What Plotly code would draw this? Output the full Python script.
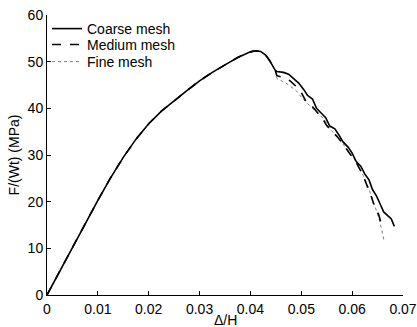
import plotly.graph_objects as go

# shared pre-peak branch (all meshes coincide)
x_shared = [0.0, 0.0025, 0.005, 0.0075, 0.01, 0.0125, 0.015, 0.0175, 0.02, 0.0225, 0.025,
            0.0275, 0.03, 0.0325, 0.035, 0.0375, 0.04, 0.041, 0.042, 0.043, 0.0438, 0.0445, 0.0449]
y_shared = [0.0, 5.1, 10.2, 15.3, 20.3, 25.1, 29.5, 33.4, 36.7, 39.4, 41.7,
            43.8, 45.9, 47.7, 49.3, 50.9, 52.1, 52.35, 52.2, 51.4, 50.2, 48.8, 48.1]

x_coarse = [0.0452, 0.0465, 0.0475, 0.0485, 0.0495, 0.0505, 0.0512, 0.0522, 0.0530, 0.0540,
            0.0548, 0.0556, 0.0566, 0.0574, 0.0582, 0.0592, 0.0600, 0.0608, 0.0617, 0.0625,
            0.0633, 0.0640, 0.0648, 0.0655, 0.0662, 0.0670, 0.0677, 0.0683]
y_coarse = [47.9, 47.7, 47.3, 46.3, 45.4, 44.0, 42.8, 42.0, 40.0, 38.9,
            38.0, 36.2, 35.6, 34.3, 32.8, 31.7, 30.4, 28.6, 27.6, 25.9,
            24.7, 22.6, 21.2, 19.5, 17.8, 17.0, 16.3, 14.7]

x_medium = [0.0452, 0.0465, 0.0478, 0.0490, 0.0500, 0.0510, 0.0520, 0.0530, 0.0542, 0.0550,
            0.0560, 0.0570, 0.0580, 0.0590, 0.0600, 0.0610, 0.0620, 0.0630, 0.0638, 0.0645,
            0.0652, 0.0658, 0.0662]
y_medium = [47.0, 46.6, 45.9, 44.7, 43.4, 41.3, 40.6, 39.4, 37.8, 36.3,
            35.2, 34.0, 32.7, 31.2, 29.6, 28.0, 26.0, 23.4, 21.0, 18.6,
            17.3, 15.0, 14.2]

x_fine = [0.0452, 0.0470, 0.0490, 0.0500, 0.0520, 0.0535, 0.0548, 0.0555, 0.0570, 0.0585,
          0.0600, 0.0612, 0.0622, 0.0632, 0.0640, 0.0648, 0.0655, 0.0660, 0.0663]
y_fine = [46.4, 45.4, 43.8, 42.4, 40.2, 38.8, 37.2, 35.7, 34.0, 32.0,
          29.8, 27.8, 25.6, 23.0, 20.6, 18.0, 15.5, 13.2, 11.5]

names = ["Coarse mesh", "Medium mesh", "Fine mesh"]
x_ticks = [0, 0.01, 0.02, 0.03, 0.04, 0.05, 0.06, 0.07]
x_ticklabels = ["0", "0.01", "0.02", "0.03", "0.04", "0.05", "0.06", "0.07"]
y_ticks = [0, 10, 20, 30, 40, 50, 60]
x_title = "Δ/H"
y_title = "F/(Wt) (MPa)"

coarse_line = dict(color="black", width=1.6)
medium_line = dict(color="black", width=1.6, dash="dash")
fine_line = dict(color="#808080", width=1, dash="dot")

fig = go.Figure()
fig.add_trace(go.Scatter(x=x_shared + x_fine, y=y_shared + y_fine, mode="lines", name=names[2],
                         line=fine_line, legend="legend3", showlegend=True))
fig.add_trace(go.Scatter(x=x_shared + x_medium, y=y_shared + y_medium, mode="lines", name=names[1],
                         line=medium_line, legend="legend2", showlegend=True))
fig.add_trace(go.Scatter(x=x_shared + x_coarse, y=y_shared + y_coarse, mode="lines", name=names[0],
                         line=coarse_line, legend="legend", showlegend=True))

font = dict(family="Liberation Sans, Arial, sans-serif", size=14, color="black")
leg = dict(x=0.0, xanchor="left", yanchor="middle", bgcolor="rgba(0,0,0,0)", font=font,
           borderwidth=0, itemwidth=30)
fig.update_layout(
    width=417, height=327,
    margin=dict(l=47, r=14, t=15, b=32),
    paper_bgcolor="white", plot_bgcolor="white",
    font=font,
    showlegend=True,
    legend=dict(leg, y=0.95),
    legend2=dict(leg, y=0.893),
    legend3=dict(leg, y=0.832),
    xaxis=dict(range=[0, 0.07], tickvals=x_ticks, ticktext=x_ticklabels, automargin=False,
               showgrid=False, zeroline=False, showline=True, linecolor="black", linewidth=1,
               ticks="inside", ticklen=4, tickcolor="black", ticklabelstandoff=1),
    yaxis=dict(range=[0, 60], tickvals=y_ticks, automargin=False,
               showgrid=False, zeroline=False, showline=True, linecolor="black", linewidth=1,
               ticks="inside", ticklen=4, tickcolor="black",
               title=dict(text=y_title, standoff=4, font=font)),
)
fig.add_annotation(text=x_title, xref="paper", yref="paper", x=0.5, y=-0.089,
                   xanchor="center", yanchor="middle", showarrow=False, font=font)
fig.write_html("out.html")
